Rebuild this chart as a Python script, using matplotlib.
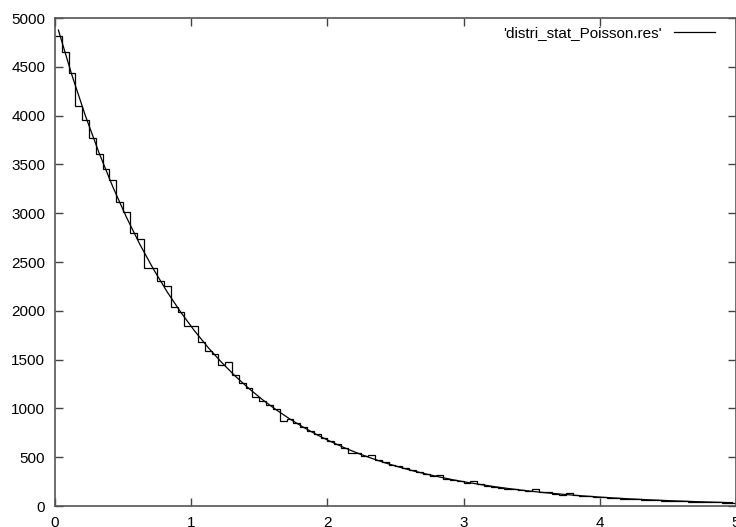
import numpy as np
import matplotlib
matplotlib.use('Agg')
import matplotlib.pyplot as plt

plt.rcParams['font.family'] = ['Liberation Sans', 'DejaVu Sans']

# histogram counts, bins of width 0.05 from 0 to 5
bin_width = 0.05
counts = [4820, 4650, 4435, 4100, 3960, 3770, 3610, 3455, 3340, 3120,
          3010, 2800, 2740, 2440, 2440, 2305, 2250, 2035, 1990, 1840,
          1845, 1685, 1590, 1560, 1440, 1480, 1340, 1265, 1205, 1120,
          1080, 1030, 990, 875, 895, 855, 805, 765, 735, 700,
          665, 640, 590, 540, 540, 515, 525, 475, 455, 420,
          410, 385, 365, 345, 330, 305, 318, 278, 270, 255,
          240, 255, 222, 208, 200, 188, 178, 170, 162, 152,
          170, 140, 145, 128, 112, 130, 108, 104, 98, 93,
          89, 86, 80, 77, 73, 70, 64, 60, 60, 56,
          50, 52, 50, 46, 44, 43, 40, 37, 34, 35]

# smooth theoretical curve
curve_x = [0.025, 0.125, 0.225, 0.325, 0.425, 0.525, 0.625, 0.725, 0.825, 0.925,
           1.025, 1.125, 1.225, 1.325, 1.425, 1.525, 1.625, 1.725, 1.825, 1.925,
           2.025, 2.125, 2.225, 2.325, 2.425, 2.525, 2.625, 2.725, 2.825, 2.925,
           3.025, 3.125, 3.225, 3.325, 3.425, 3.525, 3.625, 3.725, 3.825, 3.925,
           4.025, 4.125, 4.225, 4.325, 4.425, 4.525, 4.625, 4.725, 4.825, 4.925,
           4.975]
curve_y = [4877, 4412, 3992, 3613, 3269, 2958, 2676, 2422, 2191, 1983,
           1794, 1623, 1469, 1329, 1203, 1088, 985, 891, 806, 729,
           660, 597, 540, 489, 442, 400, 362, 328, 297, 268,
           243, 220, 199, 180, 163, 147, 133, 121, 109, 99,
           89, 81, 73, 66, 60, 54, 49, 44, 40, 36,
           35]

x_ticks = [0, 1, 2, 3, 4, 5]
y_ticks = [0, 500, 1000, 1500, 2000, 2500, 3000, 3500, 4000, 4500, 5000]

edges = np.linspace(0, bin_width * len(counts), len(counts) + 1)

fig = plt.figure(figsize=(7.36, 5.27), dpi=100)
ax = fig.add_axes([0.0747, 0.0398, 0.9253, 0.926])

ax.stairs(counts, edges, baseline=None, color='black', linewidth=0.9,
          label="'distri_stat_Poisson.res'")
ax.plot(curve_x, curve_y, color='black', linewidth=0.9)

ax.set_xlim(0, 5)
ax.set_ylim(0, 5000)
ax.set_xticks(x_ticks)
ax.set_yticks(y_ticks)
ax.tick_params(direction='in', length=6, width=1, color='#444',
               top=True, right=True, labelsize=11, pad=7)
for s in ax.spines.values():
    s.set_color('#555')
    s.set_linewidth(1.2)

ax.legend(loc='upper right', bbox_to_anchor=(0.985, 1.005), frameon=False,
          markerfirst=False, handlelength=2.7, fontsize=11,
          borderaxespad=0.3, handletextpad=0.8)

fig.savefig('out.png', dpi=100)
